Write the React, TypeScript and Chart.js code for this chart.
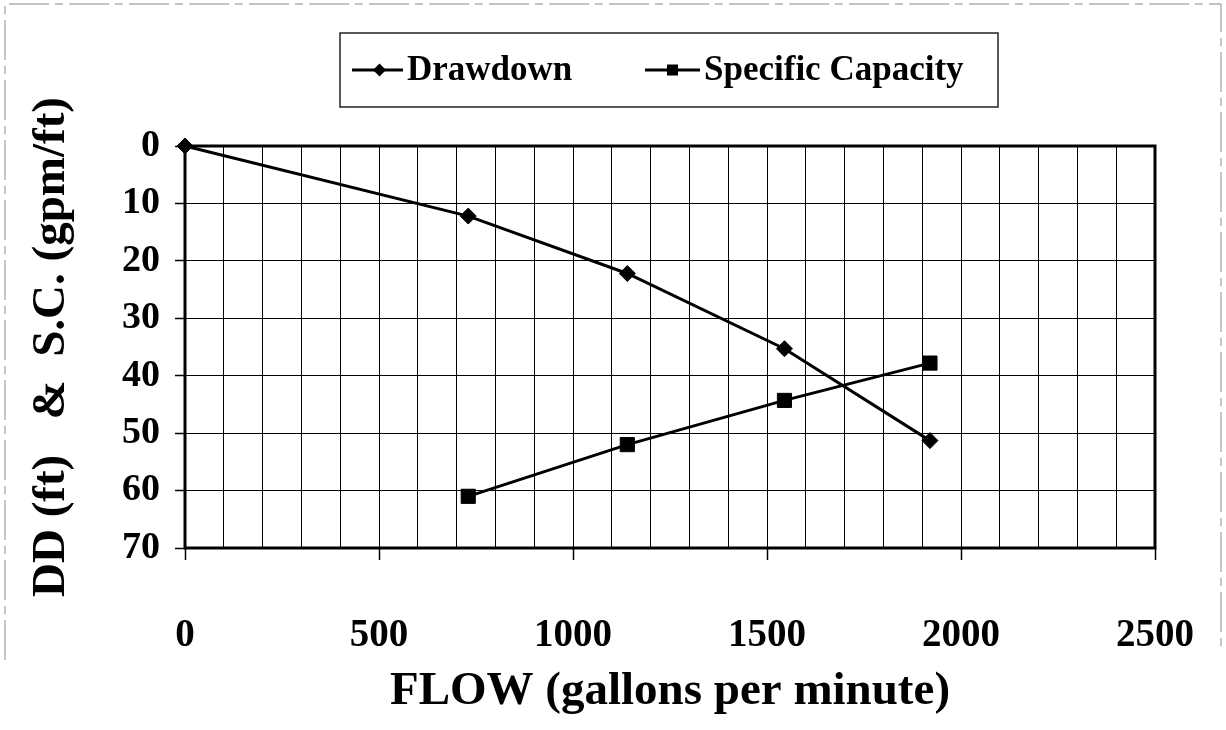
import React, { useEffect, useRef } from "react";
import { Chart, registerables } from "chart.js";

Chart.register(...registerables);

// ---- data ----
const seriesNames = ["Drawdown", "Specific Capacity"];
const flowDrawdown = [0, 730, 1140, 1545, 1920];
const drawdownValues = [0, 12.2, 22.2, 35.3, 51.3];
const flowSpecCap = [730, 1140, 1545, 1920];
const specCapValues = [61.0, 52.0, 44.3, 37.8];
const xLabelStep = 500;
const xGridStep = 100;
const xMin = 0;
const xMax = 2500;
const yMin = 0;
const yMax = 70;
const yStep = 10;
const xTitle = "FLOW (gallons per minute)";
const yTitle = "DD (ft)   &  S.C. (gpm/ft)";

const SERIF = "'Liberation Serif', 'Times New Roman', serif";

const framePlugin = {
  id: "frame",
  beforeDatasetsDraw(chart: any) {
    const { ctx, chartArea } = chart;
    ctx.save();
    ctx.strokeStyle = "#000";
    ctx.lineWidth = 3;
    ctx.strokeRect(chartArea.left, chartArea.top, chartArea.right - chartArea.left, chartArea.bottom - chartArea.top);
    ctx.restore();
  },
  afterDraw(chart: any) {
    const { ctx } = chart;
    ctx.save();
    // faint scanned outer border
    ctx.strokeStyle = "rgba(90,90,90,0.7)";
    ctx.lineWidth = 1;
    ctx.setLineDash([40, 6, 8, 6]);
    ctx.beginPath();
    ctx.moveTo(5, 660);
    ctx.lineTo(5, 4);
    ctx.lineTo(1221, 4);
    ctx.lineTo(1221, 650);
    ctx.stroke();
    ctx.setLineDash([]);

    // legend box
    ctx.strokeStyle = "#222";
    ctx.lineWidth = 1.5;
    ctx.strokeRect(340, 33, 658, 74);

    const cy = 70;
    const ds = chart.data.datasets;
    const items = [
      { x0: 352, x1: 403, tx: 407, style: "diamond" },
      { x0: 645, x1: 700, tx: 704, style: "square" },
    ];
    items.forEach((it, i) => {
      ctx.strokeStyle = "#000";
      ctx.fillStyle = "#000";
      ctx.lineWidth = 3;
      ctx.beginPath();
      ctx.moveTo(it.x0, cy);
      ctx.lineTo(it.x1, cy);
      ctx.stroke();
      const mx = (it.x0 + it.x1) / 2 + (i === 0 ? 2 : 0);
      ctx.beginPath();
      if (it.style === "diamond") {
        const r = 6.5;
        ctx.moveTo(mx, cy - r);
        ctx.lineTo(mx + r, cy);
        ctx.lineTo(mx, cy + r);
        ctx.lineTo(mx - r, cy);
        ctx.closePath();
      } else {
        const s = 11;
        ctx.rect(mx - s / 2, cy - s / 2, s, s);
      }
      ctx.fill();
      ctx.font = `bold 35px ${SERIF}`;
      ctx.textBaseline = "middle";
      ctx.textAlign = "left";
      ctx.fillText(ds[i].label, it.tx, cy + 1);
    });
    ctx.restore();
  },
};

export default function App() {
  const ref = useRef<HTMLCanvasElement | null>(null);

  useEffect(() => {
    if (!ref.current) return;
    document.body.style.margin = "0";
    const chart = new Chart(ref.current, {
      type: "line",
      data: {
        datasets: [
          {
            label: seriesNames[0],
            data: flowDrawdown.map((x, i) => ({ x, y: drawdownValues[i] })),
            borderColor: "#000",
            backgroundColor: "#000",
            borderWidth: 3,
            pointStyle: "rectRot",
            pointRadius: 8,
            pointBorderWidth: 1,
            pointBackgroundColor: "#000",
            pointBorderColor: "#000",
            tension: 0,
            clip: false as any,
          },
          {
            label: seriesNames[1],
            data: flowSpecCap.map((x, i) => ({ x, y: specCapValues[i] })),
            borderColor: "#000",
            backgroundColor: "#000",
            borderWidth: 3,
            pointStyle: "rect",
            pointRadius: 10,
            pointBorderWidth: 1,
            pointBackgroundColor: "#000",
            pointBorderColor: "#000",
            tension: 0,
            clip: false as any,
          },
        ],
      },
      options: {
        animation: false,
        responsive: false,
        maintainAspectRatio: false,
        color: "#000",
        layout: { padding: { top: 146, right: 71, left: 0, bottom: 0 } },
        plugins: {
          legend: { display: false },
          tooltip: { enabled: false },
        },
        scales: {
          x: {
            type: "linear",
            min: xMin,
            max: xMax,
            afterFit: (s: any) => {
              s.height = 182;
              s.paddingLeft = 0;
              s.paddingRight = 0;
            },
            ticks: {
              stepSize: xGridStep,
              autoSkip: false,
              maxRotation: 0,
              padding: 53,
              color: "#000",
              font: { family: SERIF, size: 39, weight: "bold" },
              callback: (v: any) => (Number(v) % xLabelStep === 0 ? String(v) : ""),
            },
            grid: {
              color: "#000",
              lineWidth: 1,
              tickLength: 12,
              tickWidth: 1.5,
              tickColor: (c: any) =>
                c.tick && c.tick.value % xLabelStep === 0 ? "#000" : "rgba(0,0,0,0)",
            },
            border: { display: false },
            title: {
              display: true,
              text: xTitle,
              color: "#000",
              font: { family: SERIF, size: 47, weight: "bold" },
              padding: { top: 0, bottom: 10 },
            },
          },
          y: {
            type: "linear",
            reverse: true,
            min: yMin,
            max: yMax,
            afterFit: (s: any) => {
              s.width = 185;
              s.paddingTop = 0;
              s.paddingBottom = 0;
            },
            ticks: {
              stepSize: yStep,
              padding: 15,
              color: "#000",
              font: { family: SERIF, size: 38, weight: "bold" },
            },
            grid: {
              color: "#000",
              lineWidth: 1,
              tickLength: 10,
              tickWidth: 1.5,
              tickColor: "#000",
            },
            border: { display: false },
            title: {
              display: true,
              text: yTitle,
              color: "#000",
              font: { family: SERIF, size: 47, weight: "bold" },
              padding: { top: 24, bottom: 0 },
            },
          },
        },
      },
      plugins: [framePlugin],
    } as any);
    return () => chart.destroy();
  }, []);

  return (
    <div style={{ position: "fixed", left: 0, top: 0, width: 1226, height: 730, background: "#fff" }}>
      <canvas ref={ref} width={1226} height={730} style={{ width: 1226, height: 730, display: "block" }} />
    </div>
  );
}
